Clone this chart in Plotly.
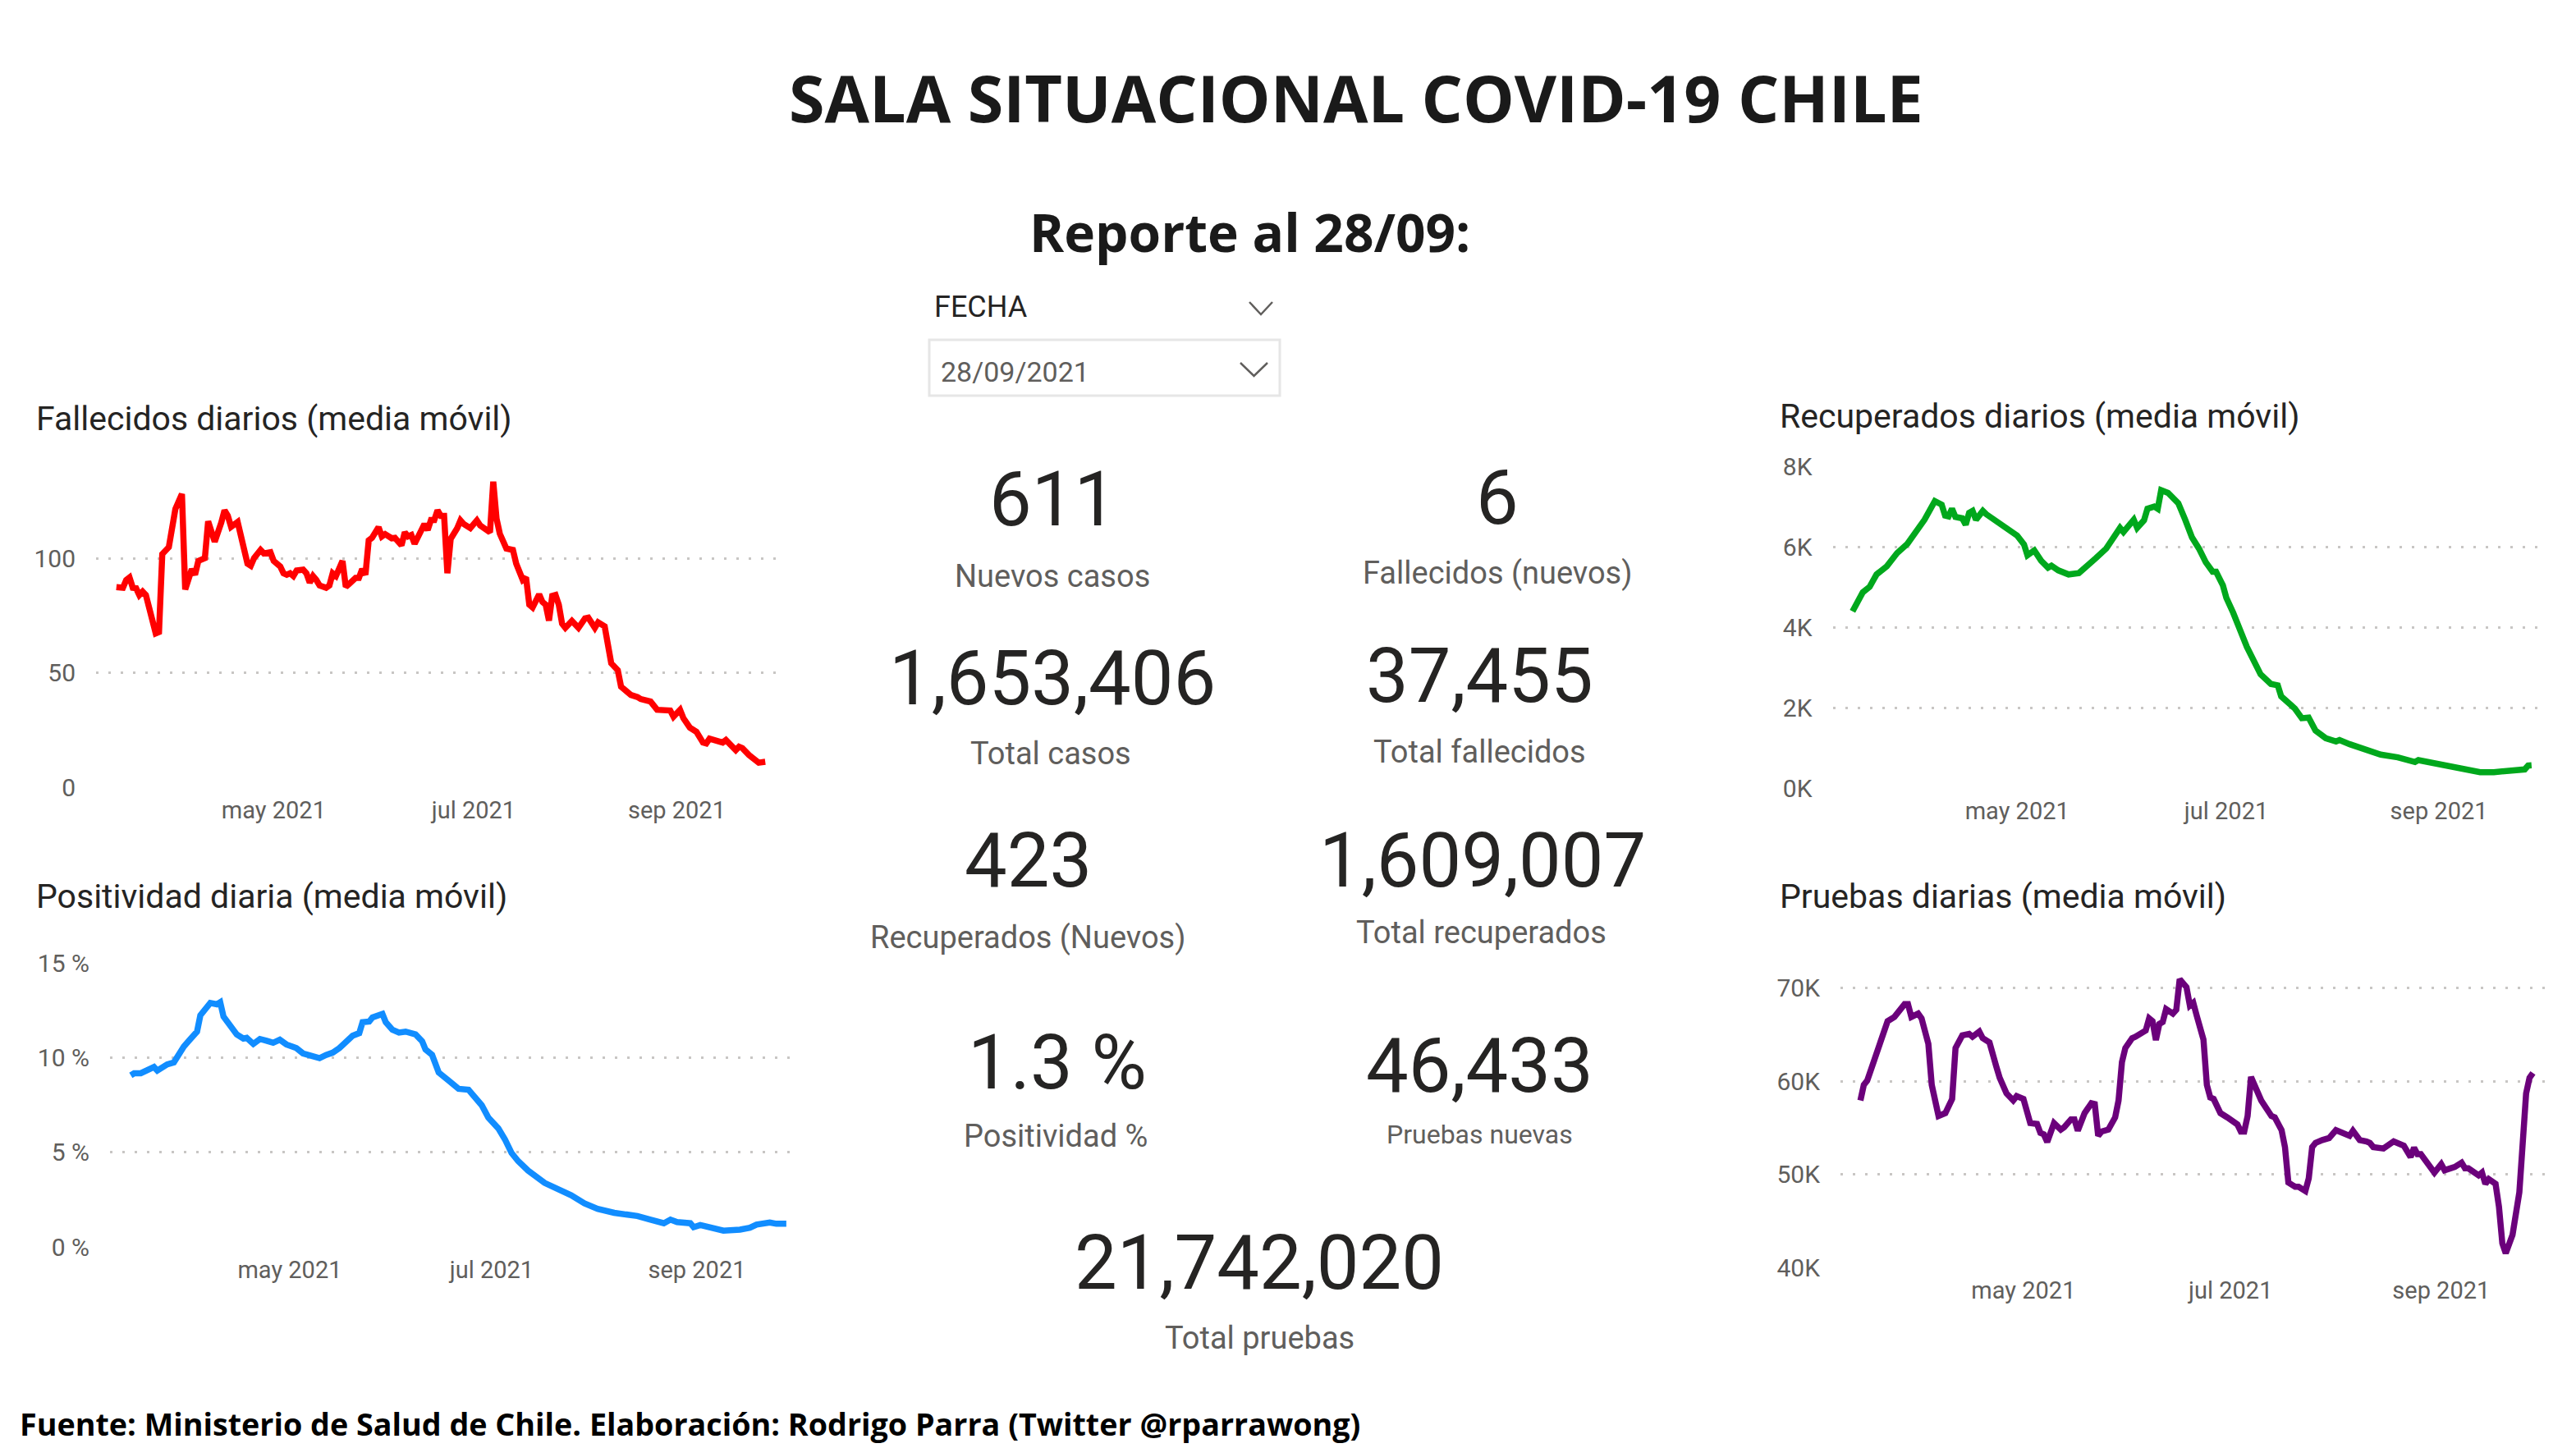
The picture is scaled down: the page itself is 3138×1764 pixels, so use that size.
import pandas as pd
import plotly.graph_objects as go

W, H = 3138, 1764
START = pd.Timestamp("2021-03-14")

# day offsets from START and values
fall_days = [0,2,3,4,5,6,7,8,9,10,11,12,13,14,16,17,18,20,21,23,24,25,27,28,30,32,33,34,35,37,38,39,40,41,42,44,45,47,48,50,51,52,53,54,55,57,58,59,60,61,62,64,65,66,67,69,70,71,73,74,75,76,77,78,80,81,82,84,85,87,88,89,90,91,93,94,95,96,97,98,99,100,101,102,104,105,106,108,110,111,114,115,116,117,119,121,122,124,125,126,127,129,130,131,132,133,134,135,136,137,139,141,143,144,146,147,149,150,151,153,154,155,157,159,160,163,165,169,170,172,173,175,176,177,179,180,181,183,185,186,187,189,190,191,193,195,196,198]
fall_vals = [87.4,87.1,90.5,91.6,87.1,86.9,83.9,85.4,83.9,77.3,71.4,67.2,67.8,101.8,104.8,114.3,121.5,128,86.3,95.2,92.8,98.8,100,116.1,107.2,115.5,120.9,118.5,113.7,115.8,109.5,102.4,97.6,96.7,100,103.6,102.1,102.6,98.8,96.4,93.4,92.8,93.4,92.2,94.6,95,93.4,89.3,92.2,90.5,88.1,87.1,88.1,93.4,92.2,98.8,87.5,88.7,91.4,91.4,95.2,92.8,107.8,108.9,113.5,109.5,110.5,108.7,108.9,105.6,111.3,109.5,110.1,106.3,112.5,114.9,112.3,116.7,116.7,120.9,118.5,118.5,93.4,108.4,113.1,116.5,114.9,113.1,116.5,114.3,111.3,133.4,117.3,110.7,104.2,103.6,97.6,90.5,91.6,79.7,78.5,84.2,80.9,79.7,72.8,83.5,83.9,79.7,71.4,69.6,72.6,69.6,73.7,74,69.6,72,70.2,61.8,54.1,51.1,43.9,42.7,40.3,39.4,38.5,37.4,33.8,33.5,30.8,33.8,30.2,26,25.1,24.2,19.5,19.1,21.2,20.3,19.5,20.6,18.9,16.2,17.7,17.1,14.1,11.5,10.7,11.1]

pos_days = [0,1,3,5,7,8,11,13,16,18,20,21,23,24,26,27,28,30,32,34,35,37,39,41,43,45,47,50,52,54,57,59,61,63,65,67,69,70,72,73,76,77,79,81,83,86,88,89,91,93,96,99,102,104,106,108,111,113,115,117,120,125,129,133,137,141,146,153,157,161,163,165,169,170,172,176,179,184,187,189,193,195,198]
pos_vals = [9.06,9.17,9.17,9.31,9.5,9.31,9.64,9.74,10.58,10.98,11.37,12.23,12.73,12.88,12.81,12.92,12.16,11.73,11.22,11.0,11.04,10.72,10.98,10.89,10.78,10.94,10.69,10.5,10.22,10.12,9.97,10.14,10.26,10.5,10.86,11.15,11.29,11.87,11.9,12.12,12.3,11.87,11.47,11.32,11.37,11.22,10.86,10.43,10.14,9.21,8.78,8.35,8.3,7.84,7.48,6.83,6.26,5.68,4.96,4.53,4.03,3.38,3.09,2.73,2.3,2.01,1.8,1.63,1.44,1.25,1.44,1.31,1.25,1.04,1.15,0.96,0.86,0.91,1.01,1.18,1.29,1.22,1.22]

rec_days = [0,2,3,5,7,10,13,16,18,21,24,26,27,28,29,30,32,33,34,35,36,38,39,42,44,46,48,50,51,53,55,57,58,60,63,66,69,71,74,76,78,79,82,83,85,86,88,89,90,92,95,97,99,101,103,105,106,108,109,111,113,115,117,119,122,124,125,129,131,133,135,138,141,142,145,149,154,159,164,165,170,175,180,183,187,192,196,197,198]
rec_vals = [4391,4731,4867,5003,5310,5514,5841,6072,6331,6671,7134,7045,6773,6753,6943,6739,6705,6549,6841,6889,6671,6889,6807,6617,6521,6365,6276,6058,5786,5909,5650,5480,5528,5412,5310,5344,5548,5718,5956,6195,6467,6365,6671,6467,6657,6943,6998,6943,7406,7338,7080,6671,6229,5956,5616,5378,5378,5037,4731,4357,3880,3506,3165,2825,2587,2553,2280,1974,1736,1749,1430,1239,1157,1191,1089,967,831,762,647,694,613,531,442,395,395,422,463,558,565]

test_days = [0,1,2,4,6,8,10,12,13,14,15,17,18,20,21,23,25,27,28,30,32,33,35,36,38,40,41,43,45,46,48,50,52,53,54,55,57,59,60,62,63,64,66,68,69,70,71,73,75,76,77,78,80,81,83,84,85,86,87,88,89,90,92,93,94,96,97,98,99,101,102,103,104,106,108,110,111,112,113,114,115,118,121,122,124,125,126,128,129,131,132,133,134,136,138,140,142,144,145,147,149,150,151,154,157,160,162,163,164,165,169,171,172,175,177,178,179,182,183,184,185,187,188,189,190,192,194,195,196,197,198]
test_vals = [57.93,59.6,60.06,62.04,64.47,66.44,66.9,67.87,68.27,68.27,66.9,67.26,66.75,64.01,59.6,56.26,56.57,58.09,63.56,64.92,65.08,64.77,65.32,64.62,64.16,61.58,60.36,58.69,57.93,58.39,58.09,55.5,55.41,54.44,54.29,53.47,55.5,54.8,55.05,55.9,55.9,54.68,56.57,57.63,57.54,54.13,54.59,54.8,56.11,57.93,62.04,63.56,64.62,64.77,65.23,65.44,66.75,66.44,64.41,66.14,66.35,67.75,67.26,67.66,70.94,70.09,68.12,68.42,67.05,64.47,59.6,58.24,58.09,56.57,56.11,55.5,55.35,54.59,54.59,56.26,60.46,57.93,56.26,56.11,54.74,52.92,49.12,48.66,48.66,48.21,49.57,52.92,53.37,53.68,53.89,54.74,54.5,54.13,54.68,53.68,53.53,53.37,52.92,52.77,53.53,53.07,51.85,52.86,52.16,52.16,50.18,51.09,50.43,50.79,51.25,50.64,50.64,49.88,50.18,48.97,49.48,48.97,46.53,42.58,41.52,43.5,48.05,52.61,58.69,60.36,60.88]

month_ticks = ["2021-05-01", "2021-07-01", "2021-09-01"]
month_labels = ["may 2021", "jul 2021", "sep 2021"]

kpi_values = ["611", "6", "1,653,406", "37,455", "423", "1,609,007", "1.3 %", "46,433", "21,742,020"]
kpi_names = ["Nuevos casos", "Fallecidos (nuevos)", "Total casos", "Total fallecidos", "Recuperados (Nuevos)",
             "Total recuperados", "Positividad %", "Pruebas nuevas", "Total pruebas"]
# centre of each value and its caption, in view pixels
kpi_pos = [(1282, 608, 1282, 702), (1824, 606, 1824, 698), (1282, 826, 1280, 918), (1802, 824, 1802, 916),
           (1252, 1048, 1252, 1142), (1806, 1048, 1804, 1136), (1288, 1294, 1286, 1384), (1802, 1298, 1802, 1382),
           (1534, 1538, 1534, 1630)]

NARROW = "Roboto"
BOLD = "Open Sans"
GRAY = "#605E5C"
DARK = "#252423"


def px(x):
    return x / W


def py(y):
    return 1 - y / H


def to_dates(days):
    return [START + pd.Timedelta(days=d) for d in days]


fig = go.Figure()

# (suffix, days, values, colour, tick values, tick text, y range, x px, y px, x range)
charts = [
    ("", fall_days, fall_vals, "#FF0000", [0, 50, 100], ["0", "50", "100"], [0, 150],
     (117, 957), (540.5, 959), ["2021-03-07 19:00", "2021-10-04 05:00"]),
    ("2", pos_days, pos_vals, "#118DFF", [0, 5, 10, 15], ["0 %", "5 %", "10 %", "15 %"], [0, 15],
     (134, 974), (1173, 1519), ["2021-03-07 17:00", "2021-10-02 00:00"]),
    ("3", rec_days, rec_vals, "#00A81C", [0, 2000, 4000, 6000, 8000], ["0K", "2K", "4K", "6K", "8K"], [0, 8000],
     (2232.5, 3103), (568, 960), ["2021-03-08 05:00", "2021-10-02 14:00"]),
    ("4", test_days, test_vals, "#6B007B", [40, 50, 60, 70], ["40K", "50K", "60K", "70K"], [40, 72],
     (2242, 3100), (1181, 1544), ["2021-03-08 03:00", "2021-10-01 12:00"]),
]

for suffix, days, vals, color, tvals, ttext, yrange, xpx, ypx, xrange in charts:
    fig.add_trace(go.Scatter(x=to_dates(days), y=vals, mode="lines",
                             line=dict(color=color, width=7.5, shape="linear"),
                             xaxis="x" + suffix, yaxis="y" + suffix, showlegend=False))
    fig.update_layout({
        "xaxis" + suffix: dict(domain=[px(xpx[0]), px(xpx[1])], range=xrange, type="date", automargin=False,
                               anchor="y" + suffix, tickmode="array", tickvals=month_ticks, ticktext=month_labels,
                               showgrid=False, zeroline=False, showline=False,
                               ticks="outside", ticklen=2, tickcolor="rgba(0,0,0,0)",
                               tickfont=dict(family=NARROW, size=29, color=GRAY)),
        "yaxis" + suffix: dict(domain=[py(ypx[1]), py(ypx[0])], range=yrange, automargin=False,
                               anchor="x" + suffix, tickmode="array", tickvals=tvals, ticktext=ttext,
                               showgrid=True, gridcolor="#C8C6C4", gridwidth=2.5, griddash="3px,12px",
                               zeroline=False, showline=False,
                               ticks="outside", ticklen=18, tickcolor="rgba(0,0,0,0)",
                               tickfont=dict(family=NARROW, size=30, color=GRAY)),
    })


def add_text(text, x, y, size, color=DARK, family=NARROW, anchor="center", bold=False):
    if bold:
        text = "<b>" + text + "</b>"
    fig.add_annotation(text=text, x=px(x), y=py(y), xref="paper", yref="paper", xanchor=anchor, yanchor="middle",
                       showarrow=False, font=dict(family=family, size=size, color=color))


add_text("SALA SITUACIONAL COVID-19 CHILE", 1652, 119, 79, "#1A1A1A", BOLD, bold=True)
add_text("Reporte al 28/09:", 1522, 282, 64, "#1A1A1A", BOLD, bold=True)
add_text("FECHA", 1136, 374, 36, DARK, NARROW, "left")
add_text("28/09/2021", 1144, 453, 34, GRAY, NARROW, "left")

add_text("Fallecidos diarios (media móvil)", 42, 510, 41, DARK, NARROW, "left")
add_text("Positividad diaria (media móvil)", 42, 1092, 41, DARK, NARROW, "left")
add_text("Recuperados diarios (media móvil)", 2166, 507, 41, DARK, NARROW, "left")
add_text("Pruebas diarias (media móvil)", 2166, 1092, 41, DARK, NARROW, "left")

for val, name, (vx, vy, nx, ny) in zip(kpi_values, kpi_names, kpi_pos):
    add_text(val, vx, vy, 92, DARK)
    add_text(name, nx, ny, 32 if name == "Pruebas nuevas" else 38, GRAY)

add_text("Fuente: Ministerio de Salud de Chile. Elaboración: Rodrigo Parra (Twitter @rparrawong)", 22, 1734, 37.7,
         "#000000", BOLD, "left", bold=True)

# date slicer box and chevrons
fig.add_shape(type="rect", xref="paper", yref="paper", x0=px(1132), x1=px(1559), y0=py(414), y1=py(482),
              line=dict(color="#E6E6E6", width=3))
for x0, x1, y0, y1 in [(1522, 1550, 368, 383), (1511, 1544, 442, 458)]:
    mid = (x0 + x1) / 2
    fig.add_shape(type="path", xref="paper", yref="paper",
                  path=f"M {px(x0)} {py(y0)} L {px(mid)} {py(y1)} L {px(x1)} {py(y0)}",
                  line=dict(color=GRAY, width=2.5))

fig.update_layout(width=W, height=H, margin=dict(l=0, r=0, t=0, b=0), paper_bgcolor="white", plot_bgcolor="white",
                  showlegend=False)

fig.write_html("out.html", post_script="document.body.style.margin='0';", config={"displayModeBar": False})
